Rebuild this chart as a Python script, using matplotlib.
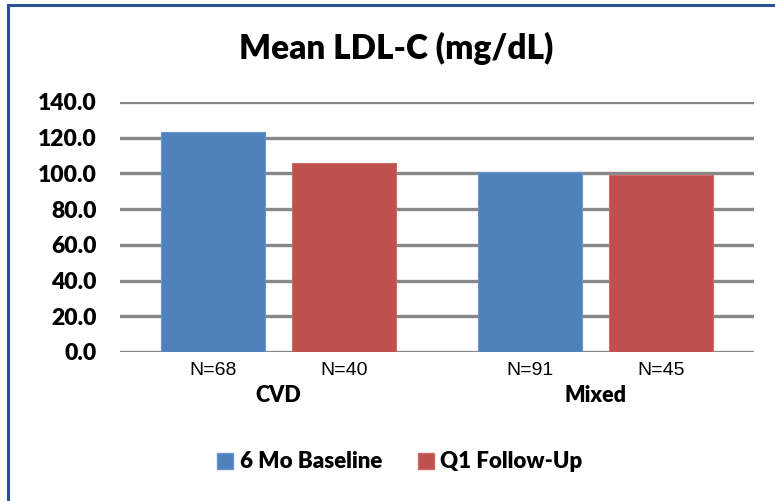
import matplotlib
matplotlib.use("Agg")
import matplotlib.pyplot as plt
from matplotlib.lines import Line2D
from matplotlib.patches import Patch
import numpy as np

# valori medi LDL-C per gruppo
categories = ["CVD", "Mixed"]
series_names = ["6 Mo Baseline", "Q1 Follow-Up"]
baseline = [123.4, 101.0]
follow_up = [105.6, 98.9]
n_baseline = ["N=68", "N=91"]
n_follow_up = ["N=40", "N=45"]
y_ticks = [0, 20, 40, 60, 80, 100, 120, 140]

blue = "#4F81BD"
red = "#C0504D"
grid_col = "#888888"
font = ["Lato", "DejaVu Sans"]
wt = "heavy"

W, H = 775, 501
fig = plt.figure(figsize=(W / 100, H / 100), dpi=100)
ax = fig.add_axes([120 / W, 1 - 352 / H, 634 / W, 250 / H])

x = np.arange(len(categories))
bw = 0.331
off = 0.2066
b1 = ax.bar(x - off, baseline, bw, color=blue, edgecolor="#6A95CC", linewidth=0.8, zorder=3)
b2 = ax.bar(x + off, follow_up, bw, color=red, edgecolor="#D06A67", linewidth=0.8, zorder=3)

ax.set_xlim(-0.5, len(categories) - 0.5)
ax.set_ylim(0, 140)
ax.set_yticks(y_ticks)
ax.set_yticklabels([f"{v:.1f}" for v in y_ticks], fontsize=16.5, fontweight=wt, family=font)
ax.tick_params(axis="y", length=0, pad=17)
ax.set_xticks([])
for s in ax.spines.values():
    s.set_visible(False)
for v in y_ticks:
    ax.axhline(v, color=grid_col, lw=2.4, zorder=1)

# etichette N sotto ogni barra
for bars, labels in ((b1, n_baseline), (b2, n_follow_up)):
    for rect, lab in zip(bars, labels):
        ax.annotate(lab, (rect.get_x() + rect.get_width() / 2, 0),
                    xytext=(0, -7), textcoords="offset points",
                    ha="center", va="top", fontsize=14, family="Liberation Sans")

for i, cat in enumerate(categories):
    ax.annotate(cat, (i, 0), xytext=(0, -31.5), textcoords="offset points",
                ha="center", va="center", fontsize=15.5, fontweight=wt, family=font)

fig.text(396 / W, 1 - 48 / H, "Mean LDL-C (mg/dL)", ha="center", va="center",
         fontsize=24, fontweight=wt, family=font)

handles = [Patch(facecolor=blue, edgecolor="#6A95CC"), Patch(facecolor=red, edgecolor="#D06A67")]
fig.legend(handles, series_names, loc="center", bbox_to_anchor=(400 / W, 1 - 462 / H),
           ncol=2, frameon=False, handlelength=0.72, handleheight=0.72,
           handletextpad=0.3, columnspacing=1.6,
           prop={"family": font, "weight": wt, "size": 16})

# cornice blu del grafico
fig.add_artist(Line2D([8 / W, 1], [1 - 5 / H, 1 - 5 / H], color="#2A5290", lw=2.2,
                      transform=fig.transFigure))
fig.add_artist(Line2D([8 / W, 8 / W], [1 - 5 / H, 0], color="#2A5290", lw=2.2,
                      transform=fig.transFigure))

fig.savefig("out.png", dpi=100, facecolor="white")
